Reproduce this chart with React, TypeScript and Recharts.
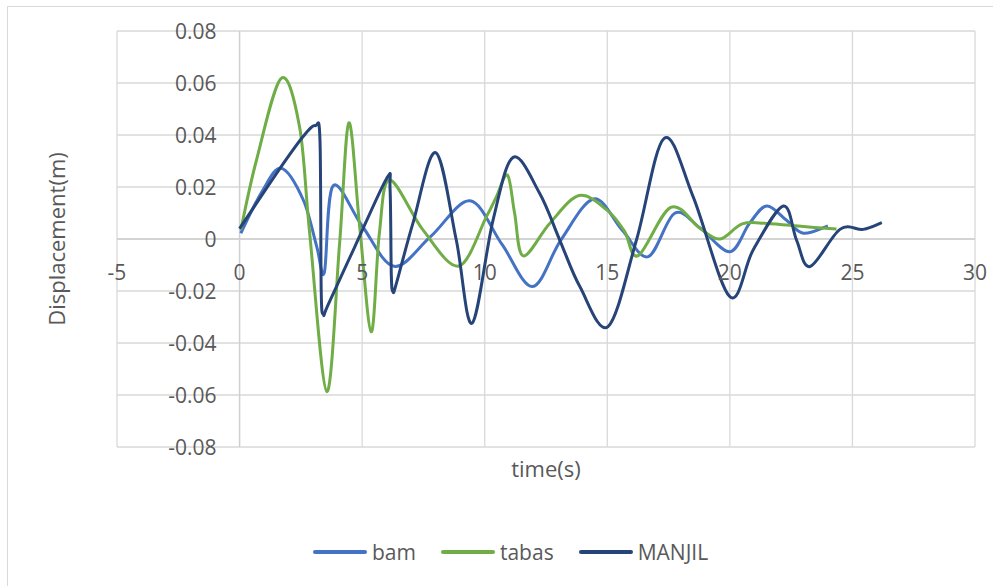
// Displacement time history, three earthquake records (Excel-style smoothed scatter lines)
import { LineChart, Line, XAxis, YAxis, CartesianGrid, ReferenceLine } from 'recharts';

const X_TICKS = [-5, 0, 5, 10, 15, 20, 25, 30];
const Y_TICKS = [-0.08, -0.06, -0.04, -0.02, 0, 0.02, 0.04, 0.06, 0.08];

const SERIES_NAMES = ['bam', 'tabas', 'MANJIL'];
const SERIES_COLORS = ['#4472C4', '#70AD47', '#264478'];

// bam
const bamTime = [0.05, 0.9, 1.7, 2.6, 3.15, 3.46, 3.81, 5.0, 6.3, 7.8, 9.4, 10.7, 11.95, 13.1, 14.45, 15.6, 16.67, 17.75, 18.8, 20.0, 20.8, 21.5, 22.3, 23.0, 24.0];
const bamDisp = [0.0022, 0.018, 0.0272, 0.015, -0.003, -0.0128, 0.0204, 0.005, -0.0105, 0.001, 0.0147, -0.002, -0.0183, -0.0005, 0.0154, 0.0035, -0.0068, 0.0099, 0.0041, -0.0049, 0.006, 0.0127, 0.0073, 0.0022, 0.005];

// tabas
const tabasTime = [0.05, 0.68, 1.7, 2.45, 2.86, 3.56, 4.08, 4.46, 4.9, 5.37, 5.7, 6.12, 7.48, 8.94, 10.07, 10.48, 10.93, 11.22, 11.57, 12.65, 13.85, 15.0, 15.7, 16.26, 17.59, 18.78, 19.6, 20.5, 21.5, 23.0, 24.35];
const tabasDisp = [0.0035, 0.03, 0.0618, 0.043, 0.0022, -0.0587, -0.0017, 0.0447, 0.0047, -0.0357, 0.002, 0.0227, 0.0035, -0.0104, 0.0086, 0.0163, 0.0246, 0.0099, -0.0065, 0.006, 0.0167, 0.011, 0.003, -0.0064, 0.0122, 0.0041, 0.0, 0.0058, 0.006, 0.0048, 0.0038];

// MANJIL
const manjilTime = [0, 1.6, 2.6, 3.09, 3.28, 3.33, 3.42, 3.6, 4.7, 6.0, 6.14, 6.19, 6.26, 6.4, 7.07, 8.0, 8.84, 9.48, 10.34, 11.16, 12.24, 13.06, 13.88, 15.03, 16.19, 17.32, 18.5, 20.0, 20.95, 22.18, 22.72, 23.27, 24.49, 25.44, 26.2];
const manjilDisp = [0.004, 0.0265, 0.0395, 0.0436, 0.038, -0.02, -0.029, -0.0255, -0.003, 0.0233, 0.019, -0.014, -0.0203, -0.017, 0.006, 0.0332, -0.0004, -0.0324, 0.0073, 0.0314, 0.0176, -0.0004, -0.0183, -0.0337, -0.0004, 0.0387, 0.0163, -0.0222, -0.0042, 0.0127, -0.0004, -0.0106, 0.0037, 0.0037, 0.0063];

const toPoints = (t: number[], d: number[]) => t.map((x, i) => ({ t: x, d: d[i] }));
const seriesData = [toPoints(bamTime, bamDisp), toPoints(tabasTime, tabasDisp), toPoints(manjilTime, manjilDisp)];

// layout
const W = 993;
const H = 586;
const PLOT_LEFT = 117;
const PLOT_TOP = 31;
const PLOT_RIGHT = 975;
const PLOT_BOTTOM = 447;
const PLOT_W = PLOT_RIGHT - PLOT_LEFT;
const PLOT_H = PLOT_BOTTOM - PLOT_TOP;
const X_MIN = X_TICKS[0];
const X_MAX = X_TICKS[X_TICKS.length - 1];
const Y_MIN = Y_TICKS[0];
const Y_MAX = Y_TICKS[Y_TICKS.length - 1];
const ZERO_X = PLOT_LEFT + (PLOT_W * (0 - X_MIN)) / (X_MAX - X_MIN);
const ZERO_Y = PLOT_TOP + (PLOT_H * (Y_MAX - 0)) / (Y_MAX - Y_MIN);

const FONT = '"Open Sans", "Noto Sans", sans-serif';
const TEXT = '#595959';
const GRID = '#d9d9d9';

// Excel-like smoothing: Catmull-Rom spline drawn as cubic beziers
function excelCurve(context: any) {
    let pts: number[][] = [];
    return {
        areaStart() {},
        areaEnd() {},
        lineStart() { pts = []; },
        lineEnd() {
            const n = pts.length;
            if (!n) return;
            context.moveTo(pts[0][0], pts[0][1]);
            for (let i = 0; i < n - 1; i++) {
                const p0 = pts[Math.max(i - 1, 0)];
                const p1 = pts[i];
                const p2 = pts[i + 1];
                const p3 = pts[Math.min(i + 2, n - 1)];
                context.bezierCurveTo(
                    p1[0] + (p2[0] - p0[0]) / 6, p1[1] + (p2[1] - p0[1]) / 6,
                    p2[0] - (p3[0] - p1[0]) / 6, p2[1] - (p3[1] - p1[1]) / 6,
                    p2[0], p2[1],
                );
            }
        },
        point(x: number, y: number) { pts.push([+x, +y]); },
    };
}

// x labels sit under the y=0 line, y labels left of the x=0 line
const XTick = (props: any) => (
    <text x={props.x} y={ZERO_Y + 33} textAnchor="middle" dominantBaseline="central"
        fill={TEXT} fontSize={21} fontFamily={FONT}>
        {props.payload.value}
    </text>
);

const YTick = (props: any) => {
    const v = props.payload.value;
    return (
        <text x={ZERO_X - 23} y={props.y} textAnchor="end" dominantBaseline="central"
            fill={TEXT} fontSize={21} fontFamily={FONT}>
            {v === 0 ? '0' : v.toFixed(2)}
        </text>
    );
};

export default function App() {
    return (
        <div style={{ position: 'absolute', left: 0, top: 0, width: W, height: H, background: '#fff', overflow: 'hidden', fontFamily: FONT }}>
            {/* chart frame */}
            <div style={{ position: 'absolute', left: 7, top: 6, width: 1010, height: 620, border: `1px solid ${GRID}` }} />

            <LineChart width={W} height={H} margin={{ top: PLOT_TOP, left: PLOT_LEFT - 1, right: W - PLOT_RIGHT, bottom: H - PLOT_BOTTOM - 1 }}>
                <CartesianGrid stroke={GRID} strokeWidth={1.3} />
                <XAxis type="number" dataKey="t" domain={[X_MIN, X_MAX]} ticks={X_TICKS} height={1} interval={0}
                    axisLine={false} tickLine={false} tick={<XTick />} allowDataOverflow />
                <YAxis type="number" domain={[Y_MIN, Y_MAX]} ticks={Y_TICKS} width={1} interval={0}
                    axisLine={false} tickLine={false} tick={<YTick />} allowDataOverflow />
                <ReferenceLine x={0} stroke="#cfcfcf" strokeWidth={1.3} />
                <ReferenceLine y={0} stroke="#cfcfcf" strokeWidth={1.3} />
                {seriesData.map((data, i) => (
                    <Line key={SERIES_NAMES[i]} data={data} dataKey="d" name={SERIES_NAMES[i]}
                        type={excelCurve as any} stroke={SERIES_COLORS[i]} strokeWidth={3}
                        dot={false} activeDot={false} isAnimationActive={false} />
                ))}
                <text x={56} y={ZERO_Y} transform={`rotate(-90 56 ${ZERO_Y})`} textAnchor="middle"
                    dominantBaseline="central" fill={TEXT} fontSize={22} fontFamily={FONT}>
                    Displacement(m)
                </text>
                <text x={PLOT_LEFT + PLOT_W / 2} y={468} textAnchor="middle" dominantBaseline="central"
                    fill={TEXT} fontSize={22} fontFamily={FONT}>
                    time(s)
                </text>
            </LineChart>

            {/* legend */}
            <div style={{ position: 'absolute', left: 313, top: 537, display: 'flex', alignItems: 'center', height: 30, color: TEXT, fontSize: 21 }}>
                {SERIES_NAMES.map((name, i) => (
                    <div key={name} style={{ display: 'flex', alignItems: 'center', marginRight: 25 }}>
                        <div style={{ width: 54, height: 4, borderRadius: 2, background: SERIES_COLORS[i], marginRight: 5 }} />
                        <span>{name}</span>
                    </div>
                ))}
            </div>
        </div>
    );
}
